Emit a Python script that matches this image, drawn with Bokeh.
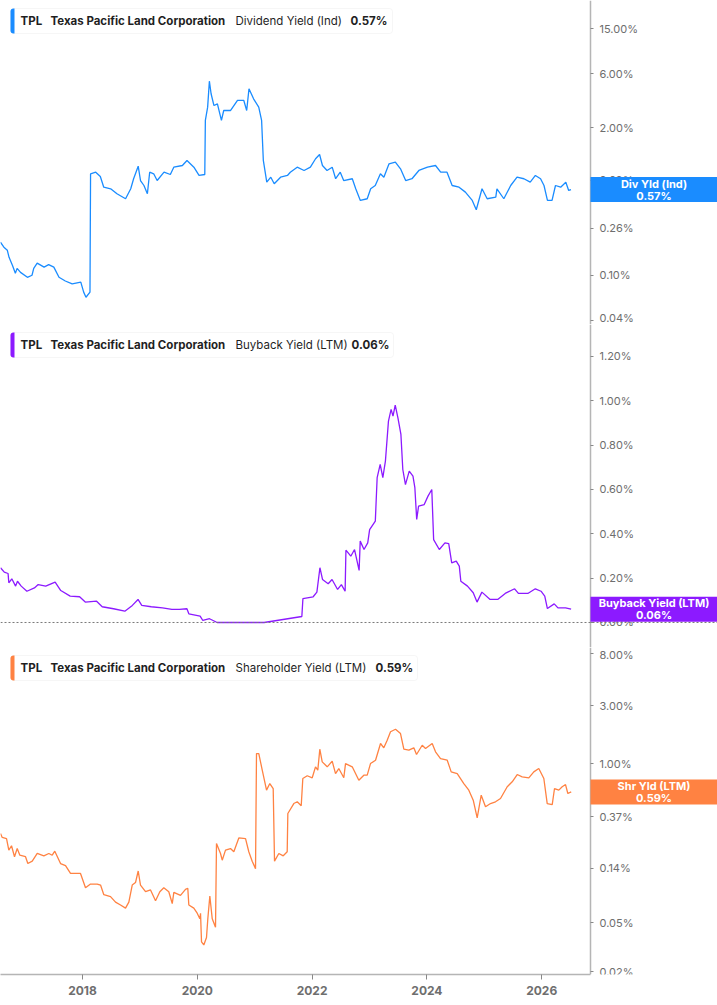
import math
from bokeh.plotting import figure
from bokeh.layouts import column
from bokeh.models import (Range1d, FixedTicker, PrintfTickFormatter, BoxAnnotation, Label,
                          Span, LinearAxis, LogAxis)
from bokeh.embed import file_html
from bokeh.resources import INLINE

# ---------------- data (decimal year, yield in %) ----------------
div_year = [2016.57, 2016.63, 2016.69, 2016.72, 2016.78, 2016.83, 2016.86, 2016.92, 2017.04, 2017.12,
            2017.15, 2017.21, 2017.33, 2017.41, 2017.50, 2017.59, 2017.70, 2017.82, 2017.97, 2018.02,
            2018.06, 2018.13, 2018.14, 2018.23, 2018.31, 2018.37, 2018.49, 2018.60, 2018.75, 2018.84,
            2018.89, 2018.97, 2019.01, 2019.07, 2019.13, 2019.17, 2019.24, 2019.30, 2019.42, 2019.53,
            2019.59, 2019.74, 2019.82, 2019.94, 2020.03, 2020.13, 2020.14, 2020.18, 2020.21, 2020.24,
            2020.29, 2020.35, 2020.42, 2020.46, 2020.58, 2020.70, 2020.81, 2020.86, 2020.90, 2020.98,
            2021.07, 2021.12, 2021.15, 2021.21, 2021.28, 2021.34, 2021.45, 2021.57, 2021.62, 2021.74,
            2021.86, 2021.97, 2022.06, 2022.13, 2022.18, 2022.26, 2022.35, 2022.41, 2022.49, 2022.55,
            2022.70, 2022.76, 2022.84, 2022.96, 2023.02, 2023.10, 2023.19, 2023.25, 2023.34, 2023.45,
            2023.54, 2023.63, 2023.74, 2023.86, 2024.01, 2024.15, 2024.24, 2024.35, 2024.44, 2024.56,
            2024.67, 2024.79, 2024.86, 2024.96, 2025.05, 2025.20, 2025.22, 2025.34, 2025.46, 2025.57,
            2025.69, 2025.80, 2025.89, 2025.98, 2026.04, 2026.10, 2026.18, 2026.24, 2026.33, 2026.42,
            2026.47, 2026.51]
div_yield = [0.196, 0.177, 0.166, 0.144, 0.122, 0.104, 0.115, 0.106, 0.096, 0.100,
             0.115, 0.128, 0.118, 0.124, 0.118, 0.096, 0.089, 0.084, 0.087, 0.071,
             0.064, 0.071, 0.785, 0.811, 0.743, 0.598, 0.579, 0.523, 0.473, 0.579,
             0.710, 0.916, 0.685, 0.619, 0.523, 0.811, 0.785, 0.685, 0.811, 0.774,
             0.898, 0.929, 1.029, 0.898, 0.759, 0.774, 2.32, 3.04, 5.15, 3.99,
             3.14, 3.25, 2.32, 2.84, 2.84, 3.48, 3.48, 2.84, 4.41, 3.60,
             3.04, 2.32, 1.03, 0.662, 0.733, 0.641, 0.733, 0.759, 0.811, 0.898,
             0.840, 0.898, 1.065, 1.162, 0.929, 0.840, 0.898, 0.710, 0.811, 0.685,
             0.710, 0.579, 0.457, 0.473, 0.579, 0.619, 0.785, 0.733, 0.962, 0.994,
             0.869, 0.685, 0.710, 0.840, 0.898, 0.929, 0.811, 0.811, 0.619, 0.598,
             0.541, 0.457, 0.378, 0.579, 0.473, 0.489, 0.579, 0.473, 0.619, 0.733,
             0.710, 0.662, 0.759, 0.710, 0.619, 0.457, 0.457, 0.619, 0.598, 0.662,
             0.560, 0.57]

bb_year = [2016.571, 2016.637, 2016.703, 2016.716, 2016.768, 2016.834, 2016.867, 2016.932, 2017.031, 2017.162,
           2017.228, 2017.359, 2017.523, 2017.621, 2017.785, 2017.949, 2018.048, 2018.245, 2018.343, 2018.540,
           2018.737, 2018.868, 2018.967, 2019.032, 2019.197, 2019.394, 2019.557, 2019.688, 2019.819, 2019.852,
           2020.049, 2020.096, 2020.213, 2020.345, 2021.165, 2021.821, 2021.840, 2022.018, 2022.083, 2022.136,
           2022.181, 2022.280, 2022.347, 2022.444, 2022.510, 2022.575, 2022.589, 2022.674, 2022.739, 2022.819,
           2022.838, 2022.904, 2022.969, 2023.002, 2023.101, 2023.133, 2023.186, 2023.232, 2023.277, 2023.330,
           2023.376, 2023.409, 2023.448, 2023.495, 2023.547, 2023.580, 2023.626, 2023.692, 2023.757, 2023.790,
           2023.822, 2023.855, 2023.953, 2024.019, 2024.085, 2024.117, 2024.216, 2024.314, 2024.380, 2024.432,
           2024.511, 2024.564, 2024.591, 2024.707, 2024.807, 2024.873, 2024.958, 2025.101, 2025.233, 2025.364,
           2025.528, 2025.594, 2025.758, 2025.889, 2025.988, 2026.053, 2026.099, 2026.218, 2026.283, 2026.415,
           2026.512]
bb_yield = [0.247, 0.227, 0.221, 0.179, 0.197, 0.164, 0.186, 0.164, 0.141, 0.156,
            0.171, 0.164, 0.182, 0.144, 0.119, 0.116, 0.092, 0.096, 0.071, 0.062,
            0.051, 0.077, 0.104, 0.077, 0.071, 0.066, 0.059, 0.059, 0.062, 0.039,
            0.029, 0.009, 0.017, 0.0, 0.0, 0.027, 0.108, 0.116, 0.137, 0.247,
            0.194, 0.175, 0.194, 0.149, 0.171, 0.141, 0.326, 0.299, 0.329, 0.235,
            0.367, 0.329, 0.359, 0.419, 0.457, 0.653, 0.713, 0.653, 0.728, 0.908,
            0.961, 0.931, 0.980, 0.923, 0.848, 0.690, 0.622, 0.683, 0.660, 0.608,
            0.465, 0.525, 0.532, 0.570, 0.600, 0.374, 0.329, 0.359, 0.356, 0.269,
            0.277, 0.254, 0.186, 0.164, 0.134, 0.092, 0.137, 0.104, 0.104, 0.131,
            0.152, 0.131, 0.131, 0.152, 0.141, 0.119, 0.063, 0.084, 0.066, 0.066,
            0.06]

shr_year = [2016.571, 2016.601, 2016.676, 2016.716, 2016.763, 2016.815, 2016.862, 2016.908, 2017.007, 2017.047,
            2017.124, 2017.211, 2017.326, 2017.413, 2017.472, 2017.517, 2017.617, 2017.704, 2017.791, 2017.965,
            2018.052, 2018.139, 2018.256, 2018.314, 2018.371, 2018.488, 2018.575, 2018.662, 2018.749, 2018.807,
            2018.866, 2018.923, 2018.970, 2019.010, 2019.098, 2019.185, 2019.272, 2019.347, 2019.416, 2019.503,
            2019.563, 2019.591, 2019.707, 2019.794, 2019.834, 2019.852, 2019.939, 2019.998, 2020.044, 2020.056,
            2020.073, 2020.113, 2020.160, 2020.183, 2020.218, 2020.260, 2020.317, 2020.334, 2020.404, 2020.434,
            2020.491, 2020.578, 2020.636, 2020.723, 2020.840, 2020.897, 2020.956, 2021.014, 2021.031, 2021.071,
            2021.131, 2021.206, 2021.263, 2021.322, 2021.345, 2021.420, 2021.497, 2021.566, 2021.577, 2021.681,
            2021.741, 2021.810, 2021.838, 2021.915, 2022.002, 2022.059, 2022.099, 2022.134, 2022.176, 2022.263,
            2022.350, 2022.408, 2022.465, 2022.552, 2022.582, 2022.699, 2022.814, 2022.901, 2022.960, 2023.017,
            2023.105, 2023.192, 2023.249, 2023.308, 2023.366, 2023.453, 2023.540, 2023.598, 2023.685, 2023.772,
            2023.819, 2023.918, 2023.976, 2024.092, 2024.150, 2024.237, 2024.354, 2024.423, 2024.528, 2024.643,
            2024.730, 2024.807, 2024.876, 2024.946, 2025.021, 2025.108, 2025.195, 2025.282, 2025.399, 2025.486,
            2025.573, 2025.660, 2025.775, 2025.862, 2025.949, 2026.037, 2026.096, 2026.183, 2026.223, 2026.298,
            2026.357, 2026.415, 2026.455, 2026.514]
shr_yield = [0.269, 0.250, 0.245, 0.197, 0.214, 0.174, 0.203, 0.179, 0.174, 0.153,
             0.160, 0.185, 0.177, 0.185, 0.179, 0.193, 0.153, 0.147, 0.127, 0.127,
             0.097, 0.104, 0.104, 0.102, 0.085, 0.082, 0.074, 0.070, 0.066, 0.074,
             0.102, 0.107, 0.133, 0.102, 0.090, 0.093, 0.076, 0.090, 0.097, 0.090,
             0.072, 0.089, 0.084, 0.094, 0.096, 0.070, 0.066, 0.060, 0.054, 0.060,
             0.035, 0.033, 0.038, 0.054, 0.083, 0.054, 0.046, 0.223, 0.185, 0.163,
             0.197, 0.203, 0.191, 0.248, 0.245, 0.191, 0.160, 0.139, 1.216, 1.216,
             0.888, 0.610, 0.691, 0.629, 0.160, 0.185, 0.177, 0.191, 0.393, 0.474,
             0.490, 0.455, 0.760, 0.800, 0.770, 0.947, 0.888, 1.319, 1.040, 0.947,
             1.052, 0.834, 0.917, 0.770, 1.007, 0.947, 0.736, 0.809, 0.809, 1.007,
             1.072, 1.469, 1.354, 1.563, 1.832, 1.923, 1.773, 1.319, 1.295, 1.354,
             1.194, 1.422, 1.337, 1.469, 1.256, 1.107, 1.072, 0.861, 0.834, 0.691,
             0.610, 0.505, 0.362, 0.555, 0.446, 0.474, 0.490, 0.521, 0.650, 0.714,
             0.819, 0.784, 0.770, 0.861, 0.917, 0.760, 0.474, 0.465, 0.629, 0.610,
             0.650, 0.678, 0.573, 0.59]

div_ticks = [0.04, 0.10, 0.26, 0.69, 2.00, 6.00, 15.00]
bb_ticks = [0.0, 0.2, 0.4, 0.6, 0.8, 1.0, 1.2]
shr_ticks = [0.02, 0.05, 0.14, 0.37, 1.00, 3.00, 8.00]
year_ticks = [2018, 2020, 2022, 2024, 2026]

ticker_name = "TPL"
company = "Texas Pacific Land Corporation"

# ---------------- styling ----------------
FONT = "Inter"
AXIS_GRAY = "#b5b5b5"
LABEL_GRAY = "#6e6e6e"
WIDTH = 717
FRAME_W = 590          # position of the value axis
RIGHT_W = WIDTH - FRAME_W
BLUE = "#1a8cff"
PURPLE = "#8c1aff"
ORANGE = "#ff8242"

X_START = 2016.571
X_AXIS = 2026.85       # date at which the value axis sits
X_END = X_START + (X_AXIS - X_START) * WIDTH / FRAME_W
x_range = Range1d(X_START, X_END)


def screen_y(v, lo, hi, h, log):
    if log:
        f = (math.log10(v) - math.log10(lo)) / (math.log10(hi) - math.log10(lo))
    else:
        f = (v - lo) / (hi - lo)
    return f * h


def make_panel(frame_h, log, lo, hi, ticks, xs, ys, color, metric, last_txt,
               legend_w, tag1, bottom=False):
    p = figure(frame_width=WIDTH, frame_height=frame_h, x_range=x_range,
               y_range=Range1d(lo, hi), y_axis_type="log" if log else "linear",
               y_axis_location=None, toolbar_location=None, output_backend="svg",
               min_border_left=0, min_border_right=0, min_border_top=0,
               min_border_bottom=0, background_fill_color="white",
               border_fill_color="white")
    p.outline_line_color = None
    for g in p.grid:
        g.visible = False

    AxisCls = LogAxis if log else LinearAxis
    ya = AxisCls(fixed_location=X_AXIS)
    ya.ticker = FixedTicker(ticks=ticks, minor_ticks=[])
    ya.formatter = PrintfTickFormatter(format="%.2f%%")
    ya.axis_line_color = AXIS_GRAY
    ya.axis_line_width = 1.5
    ya.major_tick_in = 0
    ya.major_tick_out = 3
    ya.major_tick_line_color = "#888888"
    ya.minor_tick_line_color = None
    ya.major_label_text_color = LABEL_GRAY
    ya.major_label_text_font = FONT
    ya.major_label_text_font_size = "11px"
    ya.major_label_standoff = 6
    p.add_layout(ya, "right")

    xa = p.xaxis[0]
    xa.formatter = PrintfTickFormatter(format="%d")
    xa.minor_tick_line_color = None
    xa.bounds = (X_START, X_AXIS)
    if bottom:
        xa.ticker = FixedTicker(ticks=year_ticks, minor_ticks=[])
        xa.axis_line_color = AXIS_GRAY
        xa.axis_line_width = 1.5
        xa.major_tick_in = 0
        xa.major_tick_out = 5
        xa.major_tick_line_color = "#888888"
        xa.major_label_text_color = LABEL_GRAY
        xa.major_label_text_font = FONT
        xa.major_label_text_font_style = "bold"
        xa.major_label_text_font_size = "12px"
        xa.major_label_standoff = 6
    else:
        # separator line only: no ticks, no labels
        xa.ticker = FixedTicker(ticks=[], minor_ticks=[])
        xa.axis_line_color = "#c8c8c8"
        xa.axis_line_width = 1
        xa.major_tick_in = 0
        xa.major_tick_out = 0
        xa.major_label_standoff = 0

    p.line(xs, ys, line_color=color, line_width=1.3)

    # legend box
    top = frame_h - 8
    bot = frame_h - 33
    p.add_layout(BoxAnnotation(left=10, right=10 + legend_w, top=top, bottom=bot,
                               left_units="screen", right_units="screen",
                               top_units="screen", bottom_units="screen",
                               fill_color="white", fill_alpha=1.0,
                               line_color="#e2e2e2", line_width=1, border_radius=3))
    p.add_layout(BoxAnnotation(left=10, right=14, top=top, bottom=bot,
                               left_units="screen", right_units="screen",
                               top_units="screen", bottom_units="screen",
                               fill_color=color, fill_alpha=1.0, line_color=None,
                               border_radius=(3, 0, 0, 3)))
    ty = frame_h - 20.5
    pieces = [(20, ticker_name, "bold"), (50, company, "bold"),
              (235, metric, "normal"), (None, last_txt, "bold")]
    for x, txt, style in pieces:
        if x is None:
            x = legend_w - 32
        p.add_layout(Label(x=x, y=ty, x_units="screen", y_units="screen", text=txt,
                           text_font=FONT, text_font_style=style,
                           text_font_size="11.5px", text_baseline="middle",
                           text_color="#1f1f1f"))

    # last value tag on the axis
    sy = screen_y(ys[-1], lo, hi, frame_h, log)
    p.add_layout(BoxAnnotation(left=FRAME_W, right=WIDTH,
                               top=sy + 12.5, bottom=sy - 12.5,
                               left_units="screen", right_units="screen",
                               top_units="screen", bottom_units="screen",
                               fill_color=color, fill_alpha=1.0, line_color=None,
                               level="annotation"))
    cx = FRAME_W + RIGHT_W / 2
    for dy, txt in [(6, tag1), (-6, last_txt)]:
        p.add_layout(Label(x=cx, y=sy + dy, x_units="screen", y_units="screen",
                           text=txt, text_font=FONT, text_font_style="bold",
                           text_font_size="11px", text_align="center",
                           text_baseline="middle", text_color="white",
                           level="annotation"))
    return p


p1 = make_panel(324, True, 0.0368, 26.5, div_ticks, div_year, div_yield, BLUE,
                "Dividend Yield (Ind)", "0.57%", 382, "Div Yld (Ind)")
p2 = make_panel(323, False, -0.1128, 1.344, bb_ticks, bb_year, bb_yield, PURPLE,
                "Buyback Yield (LTM)", "0.06%", 383, "Buyback Yield (LTM)")
p2.add_layout(Span(location=0, dimension="width", line_color="#7a7a7a",
                   line_dash="2 2", line_width=1))
p3 = make_panel(327, True, 0.01891, 8.97, shr_ticks, shr_year, shr_yield, ORANGE,
                "Shareholder Yield (LTM)", "0.59%", 407, "Shr Yld (LTM)", bottom=True)

layout = column(p1, p2, p3, spacing=0)
open("out.html", "w").write(file_html(layout, INLINE))
